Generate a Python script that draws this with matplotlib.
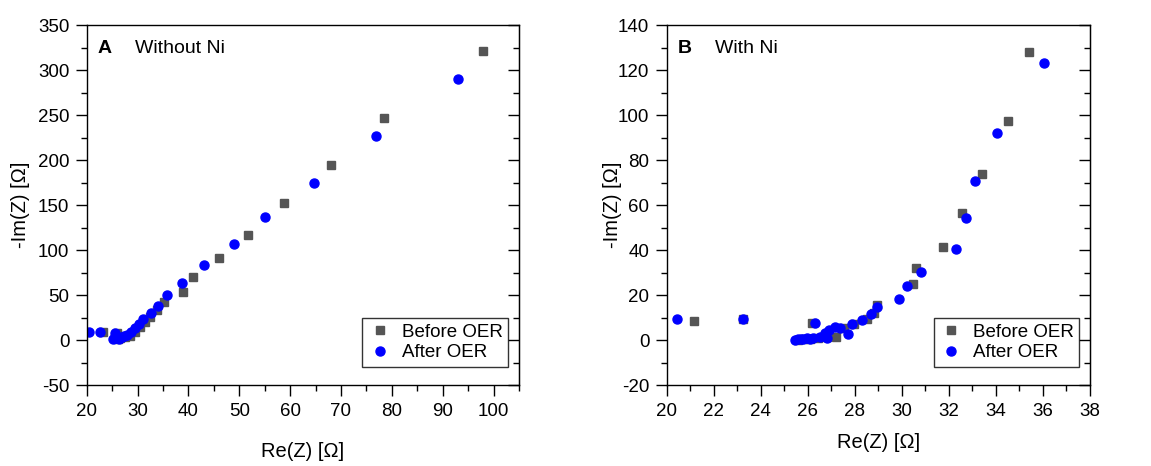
import matplotlib
matplotlib.use('Agg')
import matplotlib.pyplot as plt
from matplotlib.ticker import MultipleLocator

plt.rcParams['font.family'] = ['Liberation Sans', 'DejaVu Sans']
plt.rcParams['axes.unicode_minus'] = False

# Panel A - without Ni
a_before_x = [98.0, 78.4, 68.0, 58.75, 51.8, 46.0, 40.9, 38.9, 35.3, 33.8, 32.5, 31.5,
              30.5, 29.5, 28.5, 27.5, 26.6, 25.9, 23.3, 26.2, 25.6]
a_before_y = [321, 247, 194, 152, 117, 91, 70, 53, 42, 33, 26, 20,
              15, 9, 5, 3, 2, 8, 8.5, 1, 2]
a_after_x = [93.0, 76.9, 64.6, 55.0, 48.9, 43.1, 38.8, 35.7, 34.1, 32.6, 31.1, 30.2,
             29.5, 28.7, 27.9, 26.9, 25.9, 25.2, 25.6, 22.6, 20.5, 26.4, 27.3]
a_after_y = [290, 227, 175, 137, 107, 83, 63, 50, 38, 30, 23, 18,
             13, 9, 6, 3, 2, 1, 8, 8.5, 8.5, 1.5, 4]

# Panel B - with Ni
b_before_x = [35.4, 34.5, 33.4, 32.57, 31.76, 30.6, 30.47, 28.93, 28.8, 28.5, 27.96, 27.55,
              27.2, 26.8, 26.2, 26.45, 26.1, 21.16, 23.26, 25.8, 25.6]
b_before_y = [128, 97.2, 74, 56.3, 41.5, 32.1, 24.9, 15.6, 11.9, 9.2, 7.1, 5.2,
              1.5, 1.5, 7.4, 0.7, 0.3, 8.6, 9.2, 0.3, 0.2]
b_after_x = [36.04, 34.03, 33.1, 32.71, 32.29, 30.8, 30.2, 29.9, 28.93, 28.7, 28.3, 27.87,
             27.72, 27.37, 27.16, 26.92, 26.73, 26.83, 26.52, 26.32, 26.24, 26.1, 25.8,
             25.6, 25.46, 23.26, 20.45, 25.95, 25.7]
b_after_y = [123, 92.1, 70.8, 54.1, 40.3, 30.2, 24, 18.4, 14.5, 11.4, 8.9, 7.1,
             2.5, 5.2, 5.6, 4.4, 3.3, 1.0, 1.5, 7.7, 0.7, 0.3, 0.3,
             0.4, 0.1, 9.2, 9.2, 0.8, 0.6]

GRAY = '#555555'
BLUE = '#0000ff'

fig = plt.figure(figsize=(11.51, 4.66), dpi=100)
ax_a = fig.add_axes([0.0753, 0.1738, 0.3756, 0.7725])
ax_b = fig.add_axes([0.5792, 0.1738, 0.3678, 0.7725])


def style_axes(ax, xlim, ylim, xmaj, ymaj, xlab_y, ylab_x):
    ax.set_xlim(*xlim)
    ax.set_ylim(*ylim)
    ax.xaxis.set_major_locator(MultipleLocator(xmaj))
    ax.xaxis.set_minor_locator(MultipleLocator(xmaj / 2))
    ax.yaxis.set_major_locator(MultipleLocator(ymaj))
    ax.yaxis.set_minor_locator(MultipleLocator(ymaj / 2))
    ax.tick_params(which='both', direction='out', top=False, right=False,
                   labelsize=13.5, width=1)
    ax.tick_params(which='major', length=8)
    ax.tick_params(which='minor', length=4.5)
    ax.tick_params(axis='x', pad=5)
    ax.tick_params(axis='y', pad=4.5)
    for sp in ax.spines.values():
        sp.set_linewidth(1.0)
    # mirrored ticks on right side, pointing inward
    sec = ax.secondary_yaxis('right')
    sec.yaxis.set_major_locator(MultipleLocator(ymaj))
    sec.yaxis.set_minor_locator(MultipleLocator(ymaj / 2))
    sec.tick_params(which='both', direction='in', labelright=False, width=1)
    sec.tick_params(which='major', length=8)
    sec.tick_params(which='minor', length=4.5)
    ax.set_xlabel('Re(Z) [Ω]', fontsize=14.5, va='center')
    ax.set_ylabel('-Im(Z) [Ω]', fontsize=14.5, va='center')
    ax.xaxis.set_label_coords(0.5, xlab_y)
    ax.yaxis.set_label_coords(ylab_x, 0.5)


for ax, bx, by, afx, afy in [(ax_a, a_before_x, a_before_y, a_after_x, a_after_y),
                             (ax_b, b_before_x, b_before_y, b_after_x, b_after_y)]:
    ax.plot(bx, by, linestyle='none', marker='s', markersize=5.5, color=GRAY,
            label='Before OER')
    ax.plot(afx, afy, linestyle='none', marker='o', markersize=6.5, color=BLUE,
            label='After OER')
    leg = ax.legend(loc='lower right', bbox_to_anchor=(0.975, 0.05), fontsize=13.5,
                    frameon=True, fancybox=False, edgecolor='black',
                    handletextpad=0.5, borderpad=0.3, labelspacing=0.2,
                    handlelength=1.3, borderaxespad=0)
    leg.get_frame().set_linewidth(1.0)

style_axes(ax_a, (20, 105), (-50, 350), 10, 50, -0.186, -0.154)
style_axes(ax_b, (20, 38), (-20, 140), 2, 20, -0.161, -0.129)

ax_a.text(0.026, 0.935, 'A', transform=ax_a.transAxes, fontsize=14,
          fontweight='bold', va='center')
ax_a.text(0.112, 0.935, 'Without Ni', transform=ax_a.transAxes, fontsize=14,
          va='center')
ax_b.text(0.026, 0.935, 'B', transform=ax_b.transAxes, fontsize=14,
          fontweight='bold', va='center')
ax_b.text(0.114, 0.935, 'With Ni', transform=ax_b.transAxes, fontsize=14,
          va='center')

fig.savefig('out.png', dpi=100)
